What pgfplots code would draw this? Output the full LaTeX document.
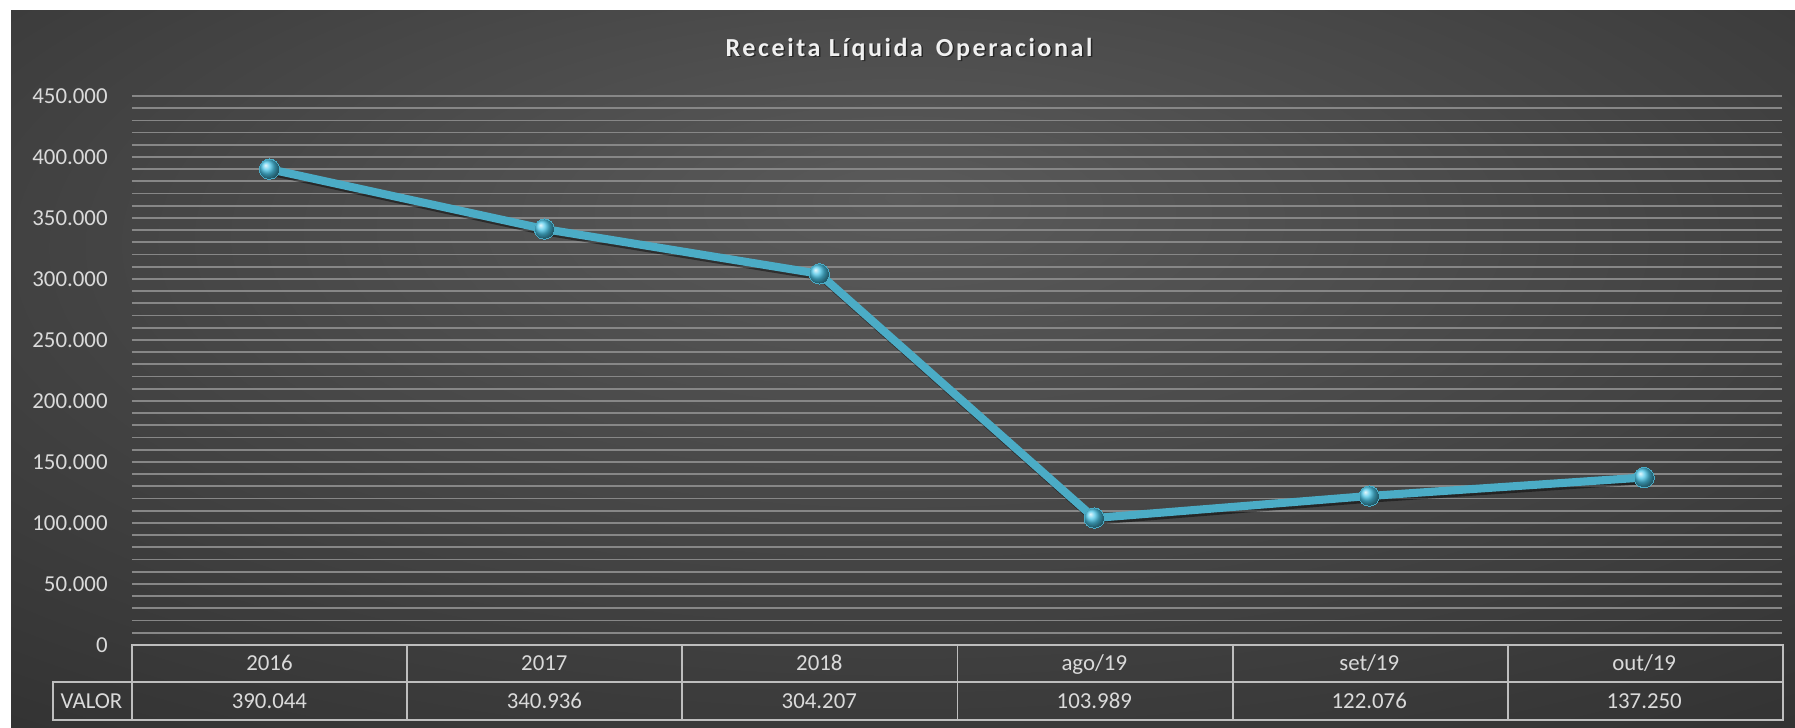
\documentclass[border=0pt]{standalone}
\usepackage{pgfplots}
\pgfplotsset{compat=1.18}
\usepackage{fontspec}
\setmainfont{Carlito}
\newfontfamily\titlefont[LetterSpace=10]{Carlito}
\definecolor{bgin}{RGB}{90,90,90}
\definecolor{bgout}{RGB}{36,36,36}
\definecolor{gridc}{RGB}{135,135,135}
\definecolor{tabc}{RGB}{190,190,190}
\definecolor{txtc}{RGB}{218,218,218}
\definecolor{linec}{RGB}{75,172,198}
\definecolor{ballc}{RGB}{75,198,232}
\pgfdeclareradialshading{bgshade}{\pgfpoint{0bp}{12bp}}{color(0bp)=(bgin); color(55bp)=(bgout); color(80bp)=(bgout)}

\begin{document}
\begin{tikzpicture}[x=0.02cm,y=-0.02cm]
  % page and chart area (px coordinates, y down)
  \fill[white] (0,0) rectangle (1795,727);
  \shade[shading=bgshade] (11,10) rectangle (1795,727);

  \node[anchor=base, font=\titlefont\bfseries\fontsize{14.8}{17}\selectfont, text=black, opacity=0.5] at (910.5,57.5) {Receita Líquida\, Operacional};
  \node[anchor=base, font=\titlefont\bfseries\fontsize{14.8}{17}\selectfont, text=white!94!black] at (909,56) {Receita Líquida\, Operacional};

  \begin{axis}[
      at={(2.64cm,-12.9cm)}, anchor=south west,
      scale only axis,
      width=33cm, height=10.98cm,
      xmin=-0.5, xmax=5.5,
      ymin=0, ymax=450000,
      ytick={0,50000,...,450000},
      minor y tick num=4,
      ymajorgrids, yminorgrids,
      major grid style={gridc, line width=1pt},
      minor grid style={gridc, line width=1pt},
      axis line style={draw=none},
      major tick length=0pt, minor tick length=0pt,
      scaled y ticks=false,
      /pgf/number format/fixed,
      /pgf/number format/1000 sep={.},
      /pgf/number format/assume math mode=true,
      tick label style={font=\fontsize{13}{15}\selectfont, text=txtc},
      yticklabel style={anchor=east, inner sep=0pt, xshift=-0.48cm},
      xtick={0,1,2,3,4,5},
      xticklabels={2016,2017,2018,ago/19,set/19,out/19},
      xticklabel style={anchor=base, inner sep=0pt, yshift=-0.52cm},
      extra x ticks={0,1,2,3,4,5},
      extra x tick labels={390.044,340.936,304.207,103.989,122.076,137.250},
      extra x tick style={grid=none, xticklabel style={yshift=-0.75cm}},
      clip=false,
    ]
    \addplot[black, opacity=0.45, line width=4.5pt, transform canvas={xshift=1pt, yshift=-1.5pt}] coordinates {
      (0,390044) (1,340936) (2,304207) (3,103989) (4,122076) (5,137250)};
    \addplot[linec, line width=4.6pt, mark=ball, mark size=5.8pt,
      mark options={ball color=ballc, draw=none, line width=0pt}] coordinates {
      (0,390044) (1,340936) (2,304207) (3,103989) (4,122076) (5,137250)};
  \end{axis}

  % data table frame
  \begin{scope}[tabc, line width=1.1pt]
    \draw (132,645) rectangle (1783,720);
    \draw (132,682) -- (1783,682);
    \foreach \k in {1,...,5} \draw ({132+275.17*\k},645) -- ({132+275.17*\k},720);
    \draw (132,682) -- (53,682) -- (53,720) -- (132,720);
  \end{scope}
  \node[anchor=base, inner sep=0pt, font=\fontsize{13}{15}\selectfont, text=txtc] at (91.5,708.5) {VALOR};
\end{tikzpicture}
\end{document}
